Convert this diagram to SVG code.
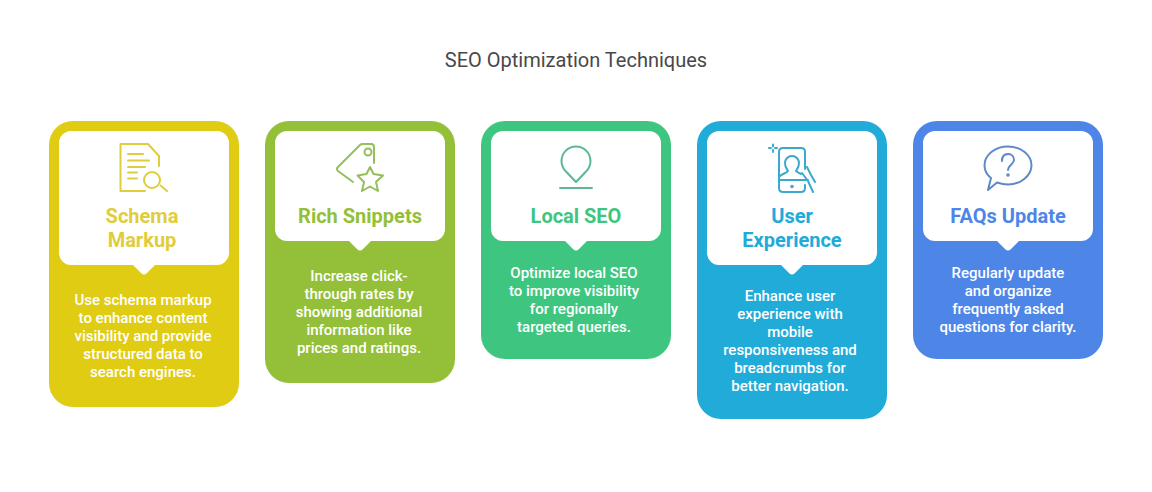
<svg xmlns="http://www.w3.org/2000/svg" width="1152" height="492" viewBox="0 0 1152 492">
<style>
text{font-family:Roboto,"Liberation Sans",sans-serif;text-anchor:middle}
.t{font-size:20px;fill:#484848}
.h{font-size:20px;font-weight:700}
.b{font-size:15px;font-weight:500;fill:#fff}
.i{fill:none;stroke-width:2;stroke-linecap:round;stroke-linejoin:round}
.w{fill:#fff}
</style>
<rect width="1152" height="492" fill="#fff"/>
<text class="t" x="576" y="67">SEO Optimization Techniques</text>
<g id="node-schema">
<rect x="49" y="121" width="190" height="286" rx="24" fill="#dfcc13"/>
<path class="w" d="M71 131H217A12 12 0 0 1 229 143V253A12 12 0 0 1 217 265H155L147 273Q144 276 141 273L133 265H71A12 12 0 0 1 59 253V143A12 12 0 0 1 71 131Z"/>
<g class="i" stroke="#e0cd3c"><path d="M159 166V156L148 144H120.500V191H145M128 154H143M128 160.500H149M128 167H145M128 172.500H137M128 178.500H137"/><circle cx="152" cy="180" r="8"/><path d="M160.500 185.500L167 191"/></g>
<text class="h" fill="#e0cd3c" x="142" y="223">Schema</text><text class="h" fill="#e0cd3c" x="142" y="247">Markup</text>
<text class="b"><tspan x="143" y="305">Use schema markup</tspan><tspan x="143" y="323">to enhance content</tspan><tspan x="143" y="341">visibility and provide</tspan><tspan x="143" y="359">structured data to</tspan><tspan x="143" y="377">search engines.</tspan></text>
</g>
<g id="node-snippets">
<rect x="265" y="121" width="190" height="262" rx="24" fill="#94bf38"/>
<path class="w" d="M287 131H433A12 12 0 0 1 445 143V229A12 12 0 0 1 433 241H371L363 249Q360 252 357 249L349 241H287A12 12 0 0 1 275 229V143A12 12 0 0 1 287 131Z"/>
<g class="i" stroke="#94bf5a"><path d="M353 182L338 171Q336 169 338 167L360 145Q361 144 363 144H372Q374 145 374 147V163"/><circle cx="368" cy="152" r="3.500"/><path d="M370 167L373.500 174L383 175.500L376 182L378 191L370 186.500L362 191L364 182L357.500 175.500L366.500 174Z"/></g>
<text class="h" fill="#94bf38" x="360" y="223">Rich Snippets</text>
<text class="b"><tspan x="359" y="281">Increase click-</tspan><tspan x="359" y="299">through rates by</tspan><tspan x="359" y="317">showing additional</tspan><tspan x="359" y="335">information like</tspan><tspan x="359" y="353">prices and ratings.</tspan></text>
</g>
<g id="node-local">
<rect x="481" y="121" width="190" height="238" rx="24" fill="#3ec680"/>
<path class="w" d="M503 131H649A12 12 0 0 1 661 143V229A12 12 0 0 1 649 241H587L579 249Q576 252 573 249L565 241H503A12 12 0 0 1 491 229V143A12 12 0 0 1 503 131Z"/>
<g class="i" stroke="#5bb892"><path d="M576 182L566 171.500A14.500 14.500 0 1 1 586 171.500Z"/><path d="M560 188H592"/></g>
<text class="h" fill="#3ec680" x="576" y="223">Local SEO</text>
<text class="b"><tspan x="574" y="278">Optimize local SEO</tspan><tspan x="574" y="296">to improve visibility</tspan><tspan x="574" y="314">for regionally</tspan><tspan x="574" y="332">targeted queries.</tspan></text>
</g>
<g id="node-experience">
<rect x="697" y="121" width="190" height="298" rx="24" fill="#20abd9"/>
<path class="w" d="M719 131H865A12 12 0 0 1 877 143V253A12 12 0 0 1 865 265H803L795 273Q792 276 789 273L781 265H719A12 12 0 0 1 707 253V143A12 12 0 0 1 719 131Z"/>
<g class="i" stroke="#3ba8cc"><path d="M805 169V152Q805 148 801 148H783Q779 148 779 152V188Q779 192 783 192H801Q805 192 805 188V185"/><path d="M779 180H808M779 177C782 173 786 174 788 171C786 168 785 167 785 163A7 7 0 0 1 799 163C799 167 798 168 796 171C797 172 799 173 801 174"/><path d="M807 167L811 175L815 182M802 173L808 181L813 192"/><path d="M773 144.500V146.500M773 150V152M769 148H771M775 148H777"/><circle cx="792" cy="186.500" r=".8"/></g>
<text class="h" fill="#20abd9" x="792" y="223">User</text><text class="h" fill="#20abd9" x="792" y="247">Experience</text>
<text class="b"><tspan x="790" y="301">Enhance user</tspan><tspan x="790" y="319">experience with</tspan><tspan x="790" y="337">mobile</tspan><tspan x="790" y="355">responsiveness and</tspan><tspan x="790" y="373">breadcrumbs for</tspan><tspan x="790" y="391">better navigation.</tspan></text>
</g>
<g id="node-faqs">
<rect x="913" y="121" width="190" height="238" rx="24" fill="#4e86e8"/>
<path class="w" d="M935 131H1081A12 12 0 0 1 1093 143V229A12 12 0 0 1 1081 241H1019L1011 249Q1008 252 1005 249L997 241H935A12 12 0 0 1 923 229V143A12 12 0 0 1 935 131Z"/>
<g class="i" stroke="#5e88c8"><path d="M991 178C986 174 984.500 170 984.500 165.500C984.500 155 995 146.500 1008 146.500C1021 146.500 1031.500 155 1031.500 165.500C1031.500 176 1020 184.500 1008 184.500C1004 184.500 1000 183.500 997 182.500L988 190Z"/><path d="M1002 161C1002 157 1004 154 1008 154C1012 154 1014 157 1014 160C1014 164 1008 165 1008 170"/><circle cx="1008" cy="175" r=".8"/></g>
<text class="h" fill="#4e86e8" x="1008" y="223">FAQs Update</text>
<text class="b"><tspan x="1008" y="278">Regularly update</tspan><tspan x="1008" y="296">and organize</tspan><tspan x="1008" y="314">frequently asked</tspan><tspan x="1008" y="332">questions for clarity.</tspan></text>
</g>
<g id="connectors"/>
</svg>
